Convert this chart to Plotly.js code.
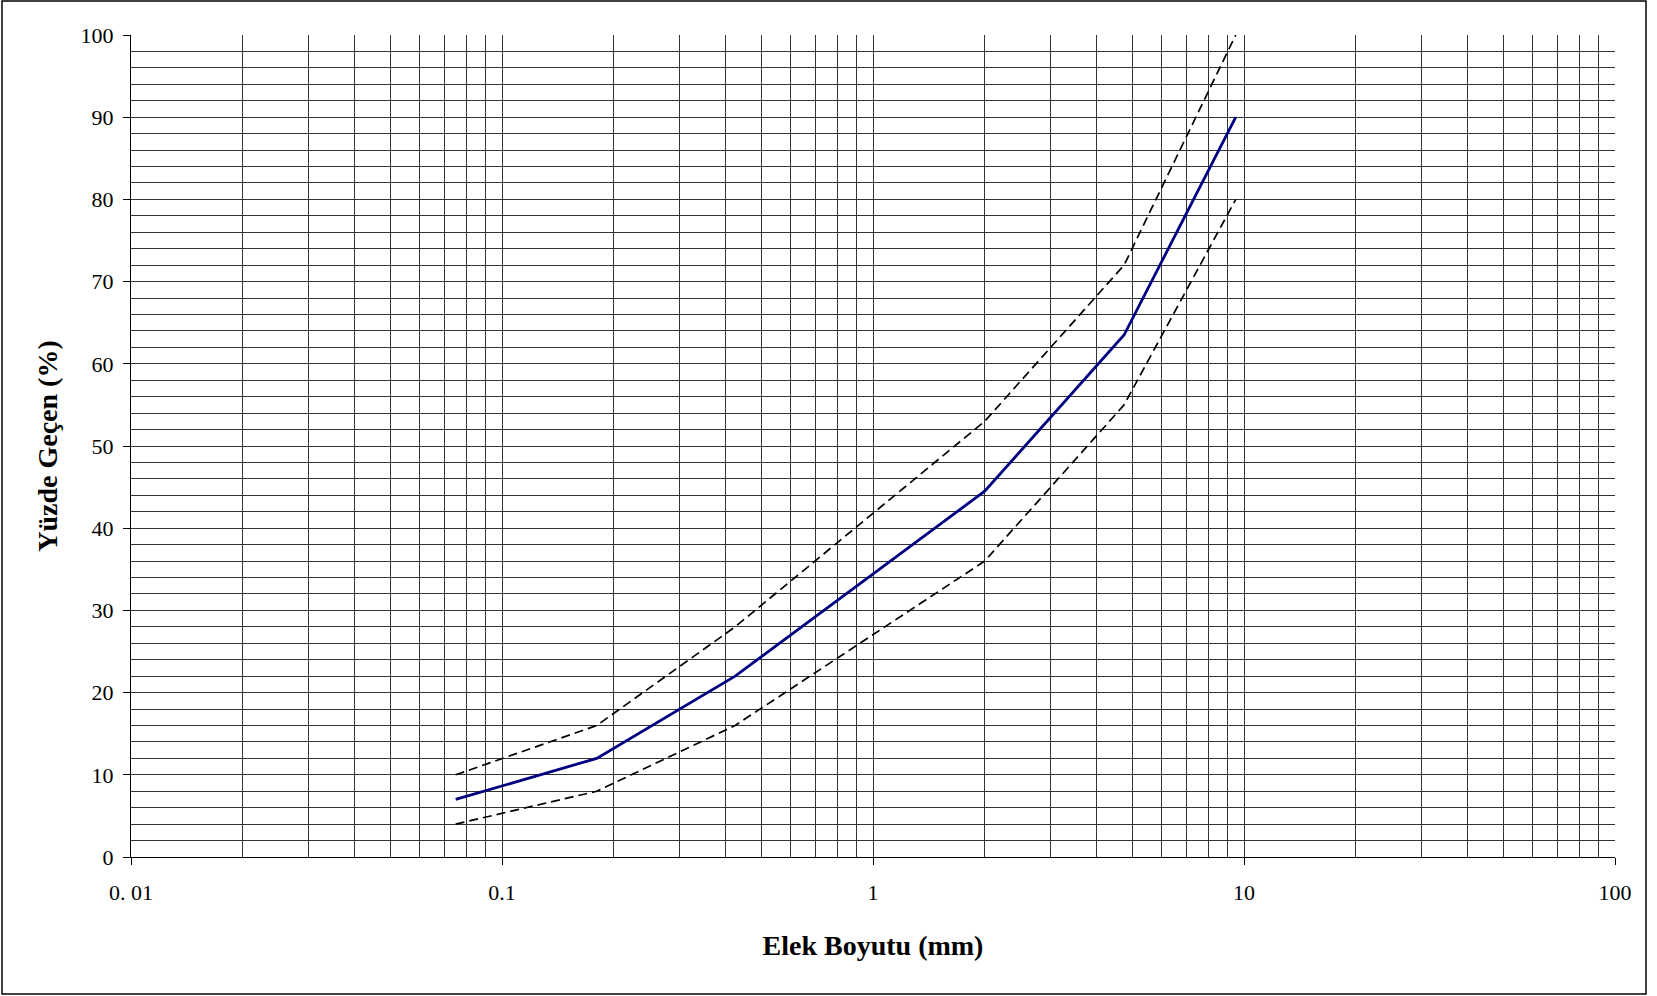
<!DOCTYPE html>
<html>
<head>
<meta charset="utf-8">
<script src="https://cdn.plot.ly/plotly-3.0.1.min.js"></script>
<style>
  html, body { margin: 0; padding: 0; background: #fff; }
  #chart { width: 1657px; height: 996px; }
</style>
</head>
<body>
<div id="chart"></div>
<script>
// Sieve sizes (mm) and percent passing
const sieveSizes = [0.075, 0.18, 0.425, 2, 4.75, 9.5];
const passing    = [7, 12, 22, 44.5, 63.5, 90];
const upperLimit = [10, 16, 28, 53, 72, 100];
const lowerLimit = [4, 8, 16, 36, 55, 80];

const xTickVals  = [0.01, 0.1, 1, 10, 100];
const xTickText  = ['0. 01', '0.1', '1', '10', '100'];

// 2..9 within each decade for the log grid
const xMinorVals = [];
[0.01, 0.1, 1, 10].forEach(d => {
  for (let m = 2; m <= 9; m++) xMinorVals.push(+(d * m).toPrecision(3));
});

const gridCol = '#333333';
const serif = 'Liberation Serif, Times New Roman, serif';

const traces = [
  {
    x: sieveSizes, y: upperLimit, type: 'scatter', mode: 'lines',
    line: { color: '#000000', width: 1.7, dash: '9px,5px' },
    hoverinfo: 'skip', showlegend: false
  },
  {
    x: sieveSizes, y: lowerLimit, type: 'scatter', mode: 'lines',
    line: { color: '#000000', width: 1.7, dash: '9px,5px' },
    hoverinfo: 'skip', showlegend: false
  },
  {
    x: sieveSizes, y: passing, type: 'scatter', mode: 'lines',
    line: { color: '#000080', width: 2.8 },
    showlegend: false
  }
];

const layout = {
  width: 1657, height: 996,
  margin: { l: 131, r: 42, t: 35, b: 139 },
  paper_bgcolor: '#ffffff', plot_bgcolor: '#ffffff',
  font: { family: serif, color: '#000000', size: 22 },
  showlegend: false,
  xaxis: {
    type: 'log', range: [-2, 2],
    tickmode: 'array', tickvals: xTickVals, ticktext: xTickText,
    ticks: 'outside', ticklen: 7, tickcolor: '#000', tickwidth: 1,
    ticklabelstandoff: 9,
    showgrid: true, gridcolor: gridCol, gridwidth: 1,
    minor: { tickmode: 'array', tickvals: xMinorVals, showgrid: true, gridcolor: gridCol, gridwidth: 1, ticks: '' },
    showline: true, linecolor: '#000', linewidth: 1, mirror: false,
    zeroline: false,
    tickfont: { family: serif, size: 22, color: '#000' },
    title: { text: 'Elek Boyutu (mm)', font: { family: serif, size: 28, color: '#000', weight: 'bold' }, standoff: 30 }
  },
  yaxis: {
    range: [0, 100], dtick: 10, tick0: 0,
    ticks: 'outside', ticklen: 7, tickcolor: '#000', tickwidth: 1,
    ticklabelstandoff: 5,
    showgrid: true, gridcolor: gridCol, gridwidth: 1,
    minor: { dtick: 2, tick0: 0, showgrid: true, gridcolor: gridCol, gridwidth: 1, ticks: '' },
    showline: true, linecolor: '#000', linewidth: 1,
    zeroline: false,
    tickfont: { family: serif, size: 22, color: '#000' },
    title: { text: 'Yüzde Geçen (%)', font: { family: serif, size: 28, color: '#000', weight: 'bold' }, standoff: 14 }
  },
  shapes: [
    // outer frame around the whole figure
    { type: 'rect', xref: 'paper', yref: 'paper',
      x0: (2 - 131) / 1484, x1: (1646 - 131) / 1484,
      y0: (857 - 994) / 822, y1: (857 - 1) / 822,
      line: { color: '#000', width: 1.5 }, fillcolor: 'rgba(0,0,0,0)' }
  ]
};

Plotly.newPlot('chart', traces, layout, { staticPlot: true, displayModeBar: false });
</script>
</body>
</html>
